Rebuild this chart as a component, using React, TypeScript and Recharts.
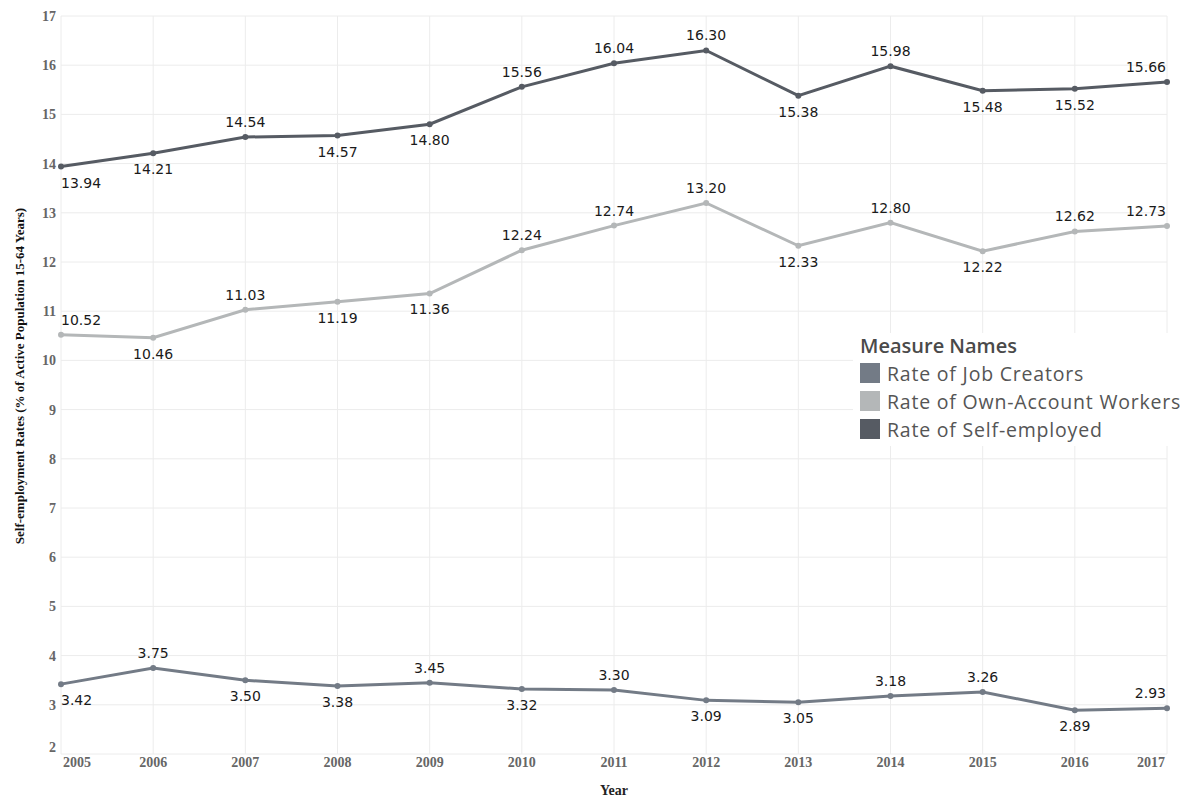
import React from 'react';
import { LineChart, Line, XAxis, YAxis, CartesianGrid, Legend, LabelList } from 'recharts';

const years = [2005, 2006, 2007, 2008, 2009, 2010, 2011, 2012, 2013, 2014, 2015, 2016, 2017];
const jobCreators = [3.42, 3.75, 3.5, 3.38, 3.45, 3.32, 3.3, 3.09, 3.05, 3.18, 3.26, 2.89, 2.93];
const ownAccount = [10.52, 10.46, 11.03, 11.19, 11.36, 12.24, 12.74, 13.2, 12.33, 12.8, 12.22, 12.62, 12.73];
const selfEmployed = [13.94, 14.21, 14.54, 14.57, 14.8, 15.56, 16.04, 16.3, 15.38, 15.98, 15.48, 15.52, 15.66];
const yTicks = [2, 3, 4, 5, 6, 7, 8, 9, 10, 11, 12, 13, 14, 15, 16, 17];

// which side of the point each value label sits on (u = above, d = below)
const jobSides = ['d', 'u', 'd', 'd', 'u', 'd', 'u', 'd', 'd', 'u', 'u', 'd', 'u'];
const ownSides = ['u', 'd', 'u', 'd', 'd', 'u', 'u', 'u', 'd', 'u', 'd', 'u', 'u'];
const selfSides = ['d', 'd', 'u', 'd', 'd', 'u', 'u', 'u', 'd', 'u', 'd', 'd', 'u'];

const data = years.map((year, i) => ({
  year,
  jobCreators: jobCreators[i],
  ownAccount: ownAccount[i],
  selfEmployed: selfEmployed[i],
}));

const COLORS = {
  job: '#737b86',
  own: '#b4b7b8',
  self: '#565b63',
};

const last = years.length - 1;

const makeLabel = (sides: string[]) => (props: any) => {
  const { x, y, value, index } = props;
  const up = sides[index] === 'u';
  const anchor = index === 0 ? 'start' : index === last ? 'end' : 'middle';
  const tx = index === 0 ? x : index === last ? x - 1 : x;
  return (
    <text
      x={tx}
      y={up ? y - 10 : y + 21}
      textAnchor={anchor}
      fill="#1a1a1a"
      fontSize={14}
      fontFamily="DejaVu Sans, Verdana, sans-serif"
    >
      {Number(value).toFixed(2)}
    </text>
  );
};

const XTick = (props: any) => {
  const { x, y, payload, index } = props;
  const anchor = index === 0 ? 'start' : index === last ? 'end' : 'middle';
  const tx = index === 0 ? x + 2 : index === last ? x - 2 : x;
  return (
    <text x={tx} y={y + 11} textAnchor={anchor} fill="#666" fontSize={14} fontWeight="bold" fontFamily="Liberation Serif, serif">
      {payload.value}
    </text>
  );
};

const YTick = (props: any) => {
  const { x, y, payload } = props;
  const ty = payload.value === 2 ? y - 7 : y;
  return (
    <text x={x} y={ty + 5} textAnchor="end" fill="#666" fontSize={14} fontWeight="bold" fontFamily="Liberation Serif, serif">
      {payload.value}
    </text>
  );
};

const YLabel = (props: any) => {
  const vb = props.viewBox || { x: 0, y: 16, width: 61, height: 738 };
  const cx = 19;
  const cy = vb.y + vb.height / 2 - 9;
  return (
    <text
      x={cx}
      y={cy}
      transform={`rotate(-90, ${cx}, ${cy})`}
      textAnchor="middle"
      dominantBaseline="central"
      fill="#111"
      fontSize={13}
      fontWeight="bold"
      fontFamily="Liberation Serif, serif"
    >
      Self-employment Rates (% of Active Population 15-64 Years)
    </text>
  );
};

const LegendBox = ({ payload }: any) => (
  <div style={{ fontFamily: 'Open Sans, sans-serif', paddingLeft: 7 }}>
    <div style={{ fontSize: 20, lineHeight: '26px', fontWeight: 600, color: '#4a4a4a' }}>Measure Names</div>
    {(payload || []).map((p: any) => (
      <div key={p.value} style={{ display: 'flex', alignItems: 'center', height: 28 }}>
        <div style={{ width: 20, height: 20, background: p.color, marginRight: 7 }} />
        <span style={{ fontSize: 19.5, letterSpacing: 0.8, color: '#555', whiteSpace: 'nowrap' }}>{p.value}</span>
      </div>
    ))}
  </div>
);

export default function App() {
  return (
    <div style={{ position: 'absolute', left: 0, top: 0, background: '#fff' }}>
      <LineChart width={1189} height={798} data={data} margin={{ top: 16, right: 22, left: 0, bottom: 0 }}>
        <CartesianGrid stroke="#ececec" strokeWidth={1} />
        <XAxis
          dataKey="year"
          type="number"
          domain={[2005, 2017]}
          ticks={years}
          axisLine={false}
          tickLine={false}
          tickSize={0}
          height={44}
          tick={<XTick />}
          interval={0}
          label={{ value: 'Year', position: 'insideBottom', offset: 3, fill: '#222', fontSize: 14, fontWeight: 'bold', fontFamily: 'Liberation Serif, serif' }}
        />
        <YAxis
          type="number"
          domain={[2, 17]}
          ticks={yTicks}
          axisLine={false}
          tickLine={false}
          tickSize={0}
          tickMargin={5}
          width={61}
          interval={0}
          tick={<YTick />}
          label={<YLabel />}
        />
        <Legend
          verticalAlign="middle"
          align="center"
          layout="vertical"
          content={<LegendBox />}
          wrapperStyle={{ position: 'absolute', left: 853, top: 333, width: 336, height: 113, background: '#fff' }}
        />
        <Line
          dataKey="jobCreators"
          name="Rate of Job Creators"
          stroke={COLORS.job}
          strokeWidth={3}
          dot={{ r: 3, fill: COLORS.job, stroke: COLORS.job, strokeWidth: 0 }}
          isAnimationActive={false}
        >
          <LabelList dataKey="jobCreators" content={makeLabel(jobSides)} />
        </Line>
        <Line
          dataKey="ownAccount"
          name="Rate of Own-Account Workers"
          stroke={COLORS.own}
          strokeWidth={3}
          dot={{ r: 3, fill: COLORS.own, stroke: COLORS.own, strokeWidth: 0 }}
          isAnimationActive={false}
        >
          <LabelList dataKey="ownAccount" content={makeLabel(ownSides)} />
        </Line>
        <Line
          dataKey="selfEmployed"
          name="Rate of Self-employed"
          stroke={COLORS.self}
          strokeWidth={3}
          dot={{ r: 3, fill: COLORS.self, stroke: COLORS.self, strokeWidth: 0 }}
          isAnimationActive={false}
        >
          <LabelList dataKey="selfEmployed" content={makeLabel(selfSides)} />
        </Line>
      </LineChart>
    </div>
  );
}
